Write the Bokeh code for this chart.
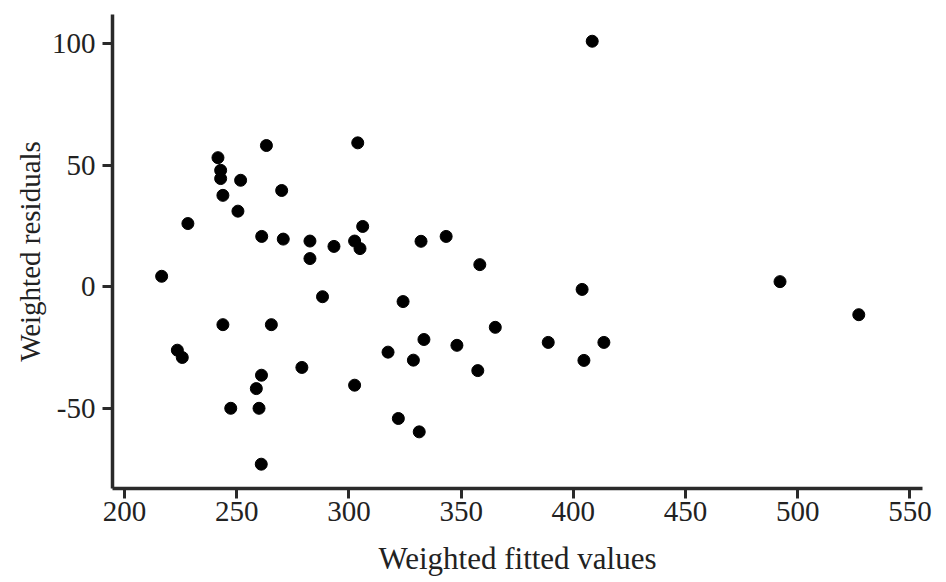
from bokeh.plotting import figure
from bokeh.models import FixedTicker, Range1d, ColumnDataSource, PrintfTickFormatter
from bokeh.embed import file_html
from bokeh.resources import INLINE

fitted = [216.5, 223.5, 225.7, 228.2, 241.6, 242.8, 242.8, 243.8, 243.8, 247.3,
          250.5, 251.7, 258.7, 259.9, 260.9, 261.0, 261.1, 263.2, 265.4, 270.0,
          270.7, 279.0, 282.6, 282.6, 288.2, 293.3, 302.5, 302.5, 303.9, 304.9,
          306.1, 317.4, 322.0, 324.1, 328.7, 331.3, 332.1, 333.4, 343.3, 348.1,
          357.4, 358.3, 365.2, 388.8, 403.9, 404.7, 408.4, 413.6, 492.1, 527.2]
residuals = [4.4, -26.0, -29.0, 26.1, 53.2, 48.0, 44.6, 37.7, -15.5, -49.9,
             31.2, 43.9, -41.8, -49.9, -72.9, -36.3, 20.8, 58.2, -15.5, 39.7,
             19.7, -33.1, 18.9, 11.7, -4.0, 16.7, -40.4, 18.9, 59.3, 15.8,
             24.9, -26.8, -54.1, -6.0, -30.1, -59.6, 18.8, -21.6, 20.8, -24.0,
             -34.4, 9.2, -16.6, -22.8, -1.0, -30.2, 101.1, -22.8, 2.2, -11.4]
x_ticks = [200, 250, 300, 350, 400, 450, 500, 550]
y_ticks = [-50, 0, 50, 100]

src = ColumnDataSource(dict(x=fitted, y=residuals))

p = figure(width=946, height=582, output_backend="svg", toolbar_location=None,
           x_range=Range1d(194.6, 555.6), y_range=Range1d(-82.9, 112.1),
           min_border_left=112, min_border_right=24, min_border_top=14,
           min_border_bottom=94)
p.outline_line_color = None
p.xgrid.grid_line_color = None
p.ygrid.grid_line_color = None
p.background_fill_color = "white"
p.border_fill_color = "white"

p.scatter("x", "y", source=src, size=12, color="black", line_color="black")

font = "Liberation Serif"
for ax in (p.xaxis[0], p.yaxis[0]):
    ax.axis_line_color = "#2a2a2a"
    ax.axis_line_width = 3.5
    ax.major_tick_line_color = "#2a2a2a"
    ax.major_tick_line_width = 3
    ax.major_tick_out = 10
    ax.major_tick_in = 0
    ax.minor_tick_line_color = None
    ax.major_label_text_font = font
    ax.major_label_text_font_size = "29px"
    ax.major_label_text_color = "#222222"
    ax.axis_label_text_font = font
    ax.axis_label_text_font_style = "normal"
    ax.axis_label_text_color = "#222222"

p.xaxis[0].ticker = FixedTicker(ticks=x_ticks)
p.yaxis[0].ticker = FixedTicker(ticks=y_ticks)
p.xaxis[0].formatter = PrintfTickFormatter(format="%d")
p.yaxis[0].formatter = PrintfTickFormatter(format="%d")
p.xaxis[0].axis_label = "Weighted fitted values"
p.yaxis[0].axis_label = "Weighted residuals"
p.xaxis[0].axis_label_text_font_size = "31px"
p.yaxis[0].axis_label_text_font_size = "29px"
p.xaxis[0].major_label_standoff = 3
p.xaxis[0].axis_label_standoff = 17
p.yaxis[0].major_label_standoff = 7
p.yaxis[0].axis_label_standoff = 3

open("out.html", "w").write(file_html(p, INLINE))
